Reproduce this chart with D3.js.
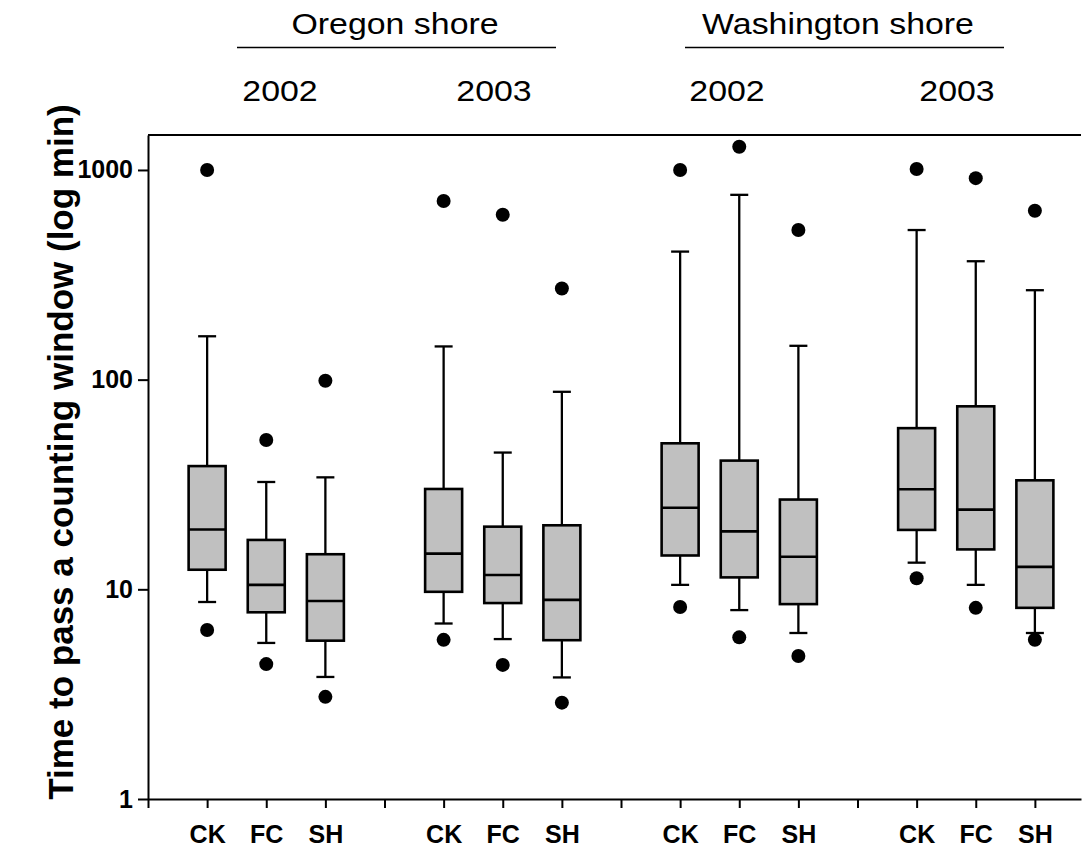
<!DOCTYPE html>
<html>
<head>
<meta charset="utf-8">
<script src="https://cdn.jsdelivr.net/npm/d3@7.9.0/dist/d3.min.js"></script>
<style>
  body { margin: 0; background: #fff; }
  svg { display: block; font-family: Arial, "Liberation Sans", sans-serif; }
  .axis path, .axis line { stroke: #000; stroke-width: 2px; }
  .axis text { fill: #000; font-weight: bold; font-size: 25px; font-family: Arial, "Liberation Sans", sans-serif; }
</style>
</head>
<body>
<div id="chart"></div>
<script>
const shores = ['Oregon shore', 'Washington shore'];
const years = ['2002', '2003', '2002', '2003'];
const species = ['CK', 'FC', 'SH'];

// one entry per box, ordered group by group (OR 2002, OR 2003, WA 2002, WA 2003), CK FC SH
const whiskerLow = [8.7, 5.55, 3.82, 6.87, 5.79, 3.8, 10.5, 7.96, 6.19, 13.4, 10.5, 6.19];
const q1 = [12.4, 7.77, 5.69, 9.73, 8.6, 5.72, 14.5, 11.4, 8.5, 19.2, 15.5, 8.16];
const median = [19.3, 10.5, 8.8, 14.8, 11.7, 8.91, 24.5, 18.9, 14.3, 30.0, 24.0, 12.8];
const q3 = [38.7, 17.2, 14.7, 30.1, 19.9, 20.2, 49.7, 41.1, 26.8, 58.7, 74.6, 33.1];
const whiskerHigh = [161, 32.5, 34.2, 144, 44.9, 87.5, 408, 761, 145, 517, 367, 267];
const outlierLow = [6.4, 4.4, 3.07, 5.74, 4.36, 2.88, 8.23, 5.9, 4.81, 11.3, 8.16, 5.75];
const outlierHigh = [1000, 51.5, 98.8, 711, 611, 272, 999, 1291, 517, 1011, 914, 639];

const yTicks = [1, 10, 100, 1000];

const width = 1083;
const height = 849;
const plot = { left: 148, right: 1081, top: 135, bottom: 799 };

const boxes = whiskerLow.map((lo, i) => {
  const g = Math.floor(i / 3);
  const s = i % 3;
  return {
    slot: g * 4 + s + 1,
    label: species[s],
    lo, q1: q1[i], med: median[i], q3: q3[i], hi: whiskerHigh[i],
    outliers: [outlierLow[i], outlierHigh[i]],
  };
});
const slotLabel = new Map(boxes.map((b) => [b.slot, b.label]));

const x = d3.scaleLinear().domain([0, 15.78]).range([plot.left, plot.right]);
const y = d3.scaleLog().domain([1, 1468]).range([plot.bottom, plot.top]);

const svg = d3.select('#chart').append('svg')
  .attr('width', width)
  .attr('height', height);

// top frame line
svg.append('line')
  .attr('x1', plot.left).attr('x2', plot.right)
  .attr('y1', plot.top).attr('y2', plot.top)
  .attr('stroke', '#000').attr('stroke-width', 2);

svg.append('g')
  .attr('class', 'axis axis--y')
  .attr('transform', `translate(${plot.left},0)`)
  .call(d3.axisLeft(y).tickValues(yTicks).tickFormat(d3.format('d')).tickSize(10).tickSizeOuter(0).tickPadding(5));

svg.append('g')
  .attr('class', 'axis axis--x')
  .attr('transform', `translate(0,${plot.bottom})`)
  .call(d3.axisBottom(x).tickValues(d3.range(0, 16)).tickFormat((d) => slotLabel.get(d) || '')
    .tickSize(9).tickSizeOuter(0).tickPadding(17));

// y title
svg.append('text')
  .attr('transform', `translate(73,452) rotate(-90)`)
  .attr('text-anchor', 'middle')
  .attr('font-weight', 'bold')
  .attr('font-size', 35)
  .text('Time to pass a counting window (log min)');

// header: shore titles, rules and years (text is drawn a little wide, as in the source)
const shoreLayout = [
  { cx: 395, x1: 237, x2: 556 },
  { cx: 838, x1: 685, x2: 1004 },
];
const yearCx = [280, 494, 727, 957];
const stretch = 1.13;

svg.selectAll('.shore').data(shores).join('text')
  .attr('class', 'shore')
  .attr('transform', (d, i) => `translate(${shoreLayout[i].cx},34) scale(${stretch},1)`)
  .attr('text-anchor', 'middle')
  .attr('font-size', 30)
  .text((d) => d);

svg.selectAll('.shore-rule').data(shores).join('line')
  .attr('class', 'shore-rule')
  .attr('x1', (d, i) => shoreLayout[i].x1)
  .attr('x2', (d, i) => shoreLayout[i].x2)
  .attr('y1', 47.5).attr('y2', 47.5)
  .attr('stroke', '#000').attr('stroke-width', 1.5);

svg.selectAll('.year').data(years).join('text')
  .attr('class', 'year')
  .attr('transform', (d, i) => `translate(${yearCx[i]},101) scale(${stretch},1)`)
  .attr('text-anchor', 'middle')
  .attr('font-size', 30)
  .text((d) => d);

// boxes
const boxW = 37;
const capW = 18;
const g = svg.append('g').attr('class', 'boxes');
const box = g.selectAll('g').data(boxes).join('g');

box.append('line')
  .attr('x1', (d) => x(d.slot)).attr('x2', (d) => x(d.slot))
  .attr('y1', (d) => y(d.hi)).attr('y2', (d) => y(d.q3))
  .attr('stroke', '#000').attr('stroke-width', 2.3);
box.append('line')
  .attr('x1', (d) => x(d.slot)).attr('x2', (d) => x(d.slot))
  .attr('y1', (d) => y(d.q1)).attr('y2', (d) => y(d.lo))
  .attr('stroke', '#000').attr('stroke-width', 2.3);
box.selectAll('.cap').data((d) => [d.lo, d.hi].map((v) => ({ slot: d.slot, v }))).join('line')
  .attr('class', 'cap')
  .attr('x1', (d) => x(d.slot) - capW / 2).attr('x2', (d) => x(d.slot) + capW / 2)
  .attr('y1', (d) => y(d.v)).attr('y2', (d) => y(d.v))
  .attr('stroke', '#000').attr('stroke-width', 2.3);
box.append('rect')
  .attr('x', (d) => x(d.slot) - boxW / 2)
  .attr('width', boxW)
  .attr('y', (d) => y(d.q3))
  .attr('height', (d) => y(d.q1) - y(d.q3))
  .attr('fill', '#c0c0c0')
  .attr('stroke', '#000').attr('stroke-width', 2.6);
box.append('line')
  .attr('x1', (d) => x(d.slot) - boxW / 2).attr('x2', (d) => x(d.slot) + boxW / 2)
  .attr('y1', (d) => y(d.med)).attr('y2', (d) => y(d.med))
  .attr('stroke', '#000').attr('stroke-width', 2.6);
box.selectAll('circle').data((d) => d.outliers.map((v) => ({ slot: d.slot, v }))).join('circle')
  .attr('cx', (d) => x(d.slot))
  .attr('cy', (d) => y(d.v))
  .attr('r', 7)
  .attr('fill', '#000');
</script>
</body>
</html>
